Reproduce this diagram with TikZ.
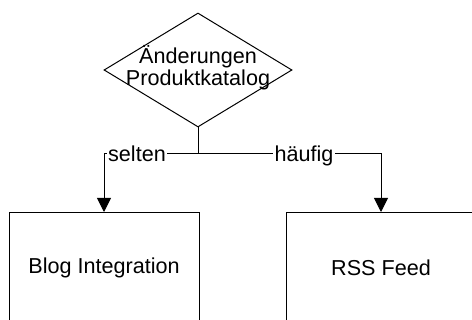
\documentclass[tikz,border=0pt]{standalone}
\usepackage{fontspec}
\setmainfont{Liberation Sans}
\usetikzlibrary{shapes.geometric,arrows.meta}
\begin{document}
\begin{tikzpicture}[x=1pt,y=-1pt,
  every node/.style={font=\fontsize{21.6}{22.5}\selectfont},
  decision/.style={draw, shape=diamond, line width=1pt, inner sep=0pt,
    minimum width=188pt, minimum height=114pt},
  target/.style={draw, rectangle, line width=1pt, inner sep=0pt,
    minimum width=190pt, minimum height=111pt},
  conn/.style={line width=1pt},
  arrowconn/.style={conn, -{Triangle[width=14pt,length=14pt]}},
  edgelabel/.style={fill=white, inner sep=1.5pt, text height=15.5pt, text depth=0pt}]
\useasboundingbox (0,0) rectangle (472,320);
\clip (0,0) rectangle (472,320);

% decision and the two outcomes
\node[decision] (dec) at (198,70) {};
\node[align=center, inner sep=0pt] (dectext) at (198,67.5) {Änderungen\\Produktkatalog};
\node[target] (blog) at (104,268) {Blog Integration};
\node[target] (rss) at (381,268) {RSS Feed};

% branching connector
\coordinate (split) at (198,154);
\draw[conn] (dec.south) -- (split);
\draw[arrowconn] (split) -| (blog.north);
\draw[arrowconn] (split) -| (rss.north);

% branch labels sitting on the line
\node[edgelabel] (lblselten) at (137,154) {selten};
\node[edgelabel] (lblhaeufig) at (304,154) {häufig};
\end{tikzpicture}
\end{document}
